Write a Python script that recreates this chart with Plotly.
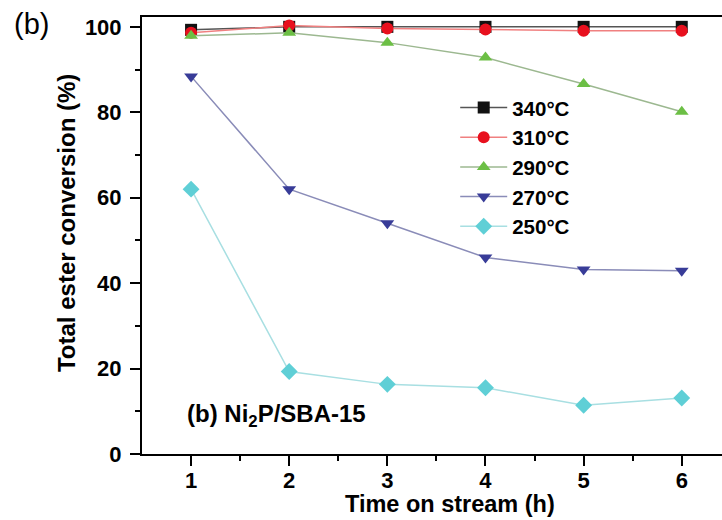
import plotly.graph_objects as go

# Time on stream (h)
hours = [1, 2, 3, 4, 5, 6]

# Total ester conversion (%) at each reaction temperature
conv_340 = [99.3, 100.0, 100.0, 100.0, 100.0, 100.0]
conv_310 = [98.6, 100.3, 99.6, 99.4, 99.1, 99.1]
conv_290 = [97.9, 98.6, 96.3, 92.8, 86.6, 80.1]
conv_270 = [88.4, 62.0, 54.0, 46.0, 43.2, 42.9]
conv_250 = [62.0, 19.3, 16.3, 15.5, 11.4, 13.1]

series = [
    ("340°C", conv_340, "square", 12, "#111111", "#555555"),
    ("310°C", conv_310, "circle", 12, "#e8101e", "#f08080"),
    ("290°C", conv_290, "triangle-up", 12, "#6cbf45", "#9cb890"),
    ("270°C", conv_270, "triangle-down", 12, "#383c98", "#8a8cb8"),
    ("250°C", conv_250, "diamond", 13, "#5fcfd6", "#a8dfe2"),
]

FONT = "Arial, Liberation Sans, sans-serif"

fig = go.Figure()
for name, vals, sym, msize, mcol, lcol in series:
    fig.add_trace(go.Scatter(
        x=hours, y=vals, name=name, mode="lines+markers",
        line=dict(color=lcol, width=1.5),
        marker=dict(symbol=sym, size=msize, color=mcol, line=dict(width=0)),
    ))

axis_common = dict(
    showline=True, linecolor="black", linewidth=2,
    ticks="outside", ticklen=10, tickwidth=2, tickcolor="black",
    showgrid=False, zeroline=False,
    tickfont=dict(family=FONT, size=22, color="black", weight="bold"),
)

fig.update_xaxes(
    **axis_common,
    range=[0.5, 6.41], tickvals=hours, mirror=True, ticklabelstandoff=-4,
    minor=dict(tickvals=[1.5, 2.5, 3.5, 4.5, 5.5], ticks="outside",
               ticklen=5, tickwidth=2, tickcolor="black"),
)
fig.update_yaxes(
    **axis_common,
    range=[0, 102.3], tickvals=[0, 20, 40, 60, 80, 100], mirror=False,
    ticklabelstandoff=4,
    minor=dict(tickvals=[10, 30, 50, 70, 90], ticks="outside",
               ticklen=5, tickwidth=2, tickcolor="black"),
)

# Axis titles
fig.add_annotation(
    text="<b>Time on stream (h)</b>", xref="paper", yref="paper",
    x=0.531, y=-0.1155, xanchor="center", yanchor="middle", showarrow=False,
    font=dict(family=FONT, size=23.5, color="black"),
)
fig.add_annotation(
    text="<b>Total ester conversion (%)</b>", xref="paper", yref="paper",
    x=-0.129, y=0.529, xanchor="center", yanchor="middle", showarrow=False,
    textangle=-90, font=dict(family=FONT, size=24, color="black"),
)

# Panel labels
fig.add_annotation(
    text="(b)", xref="paper", yref="paper", x=-0.1905, y=0.984,
    xanchor="center", yanchor="middle", showarrow=False,
    font=dict(family=FONT, size=29, color="black"),
)
fig.add_annotation(
    text="<b>(b) Ni<sub>2</sub>P/SBA-15</b>", xref="x", yref="y",
    x=0.938, y=9.1, xanchor="left", yanchor="middle", showarrow=False,
    font=dict(family=FONT, size=24, color="black"),
)

fig.update_layout(
    width=722, height=520,
    margin=dict(l=142, r=0, t=17, b=66),
    paper_bgcolor="white", plot_bgcolor="white",
    font=dict(family=FONT, color="black"),
    showlegend=True,
    legend=dict(
        x=0.54, y=0.838, xanchor="left", yanchor="top",
        bgcolor="rgba(0,0,0,0)", tracegroupgap=0, itemwidth=47,
        font=dict(family=FONT, size=20.5, color="black", weight="bold"),
    ),
)

fig.write_html("out.html")
